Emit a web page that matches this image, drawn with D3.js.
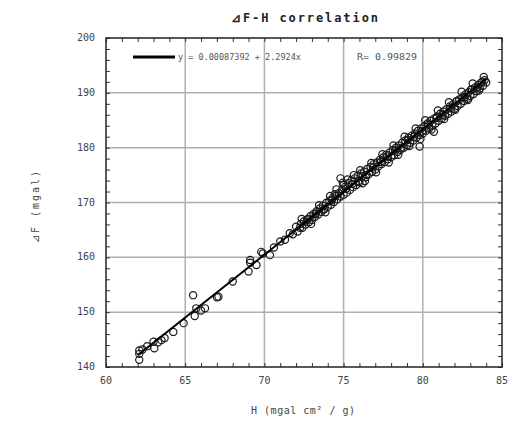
<!DOCTYPE html>
<html><head><meta charset="utf-8">
<script src="https://cdn.jsdelivr.net/npm/d3@7"></script>
<style>
html,body{margin:0;padding:0;background:#fff;}
svg{display:block;}
</style></head>
<body>
<script>
const titleText = "⊿F-H  correlation";
const xLabelText = "H (mgal cm² / g)";
const yLabelText = "⊿F (mgal)";
const legendEq = "y = 0.00087392 + 2.2924x";
const legendR = "R= 0.99829";
const xTicks = [60, 65, 70, 75, 80, 85];
const yTicks = [140, 150, 160, 170, 180, 190, 200];
const fitIntercept = 0.00087392;
const fitSlope = 2.2924;
const fitRange = [62.0, 84.0];

const ptsX = [
62.1,62.1,62.1,62.3,62.6,63.0,63.05,63.3,63.5,63.7,64.25,64.9,65.5,65.6,65.7,66.0,66.25,67.0,67.1,68.0,69.0,69.1,69.1,69.5,69.8,69.9,70.35,70.6,
71.0,71.3,71.6,71.8,72.0,72.1,72.3,72.4,72.5,72.6,72.7,72.8,72.9,73.0,73.1,73.2,73.3,73.4,73.5,73.6,73.7,73.8,73.9,74.0,74.1,74.2,74.3,74.4,74.5,74.6,74.7,74.8,74.8,74.9,75.0,75.0,75.1,75.2,75.3,75.4,75.5,75.6,75.7,75.8,75.9,76.0,76.1,76.2,76.2,76.3,76.4,76.5,76.6,76.7,76.8,76.9,77.0,77.1,77.2,77.3,77.4,77.5,77.6,77.7,77.8,77.9,78.0,78.1,78.2,78.3,78.4,78.5,78.6,78.7,78.8,78.9,79.0,79.1,79.2,79.3,79.4,79.5,79.6,79.7,79.8,79.8,79.9,80.0,80.1,80.2,80.3,80.4,80.5,80.6,80.7,80.7,80.8,80.9,81.0,81.1,81.2,81.3,81.4,81.5,81.6,81.7,81.8,81.9,82.0,82.1,82.2,82.3,82.4,82.5,82.6,82.7,82.8,82.9,83.0,83.1,83.2,83.3,83.4,83.5,83.6,83.7,83.8,83.9,84.0,
72.25,72.75,73.25,73.75,74.25,74.45,75.15,75.55,75.95,76.45,76.85,77.35,77.75,78.25,78.65,79.05,79.45,79.95,80.35,80.85,81.25,81.75,82.15,82.65,83.05,83.45,83.75,
72.35,72.95,73.45,73.85,74.15,74.55,74.95,75.25,75.65,76.05,76.35,76.75,77.05,77.45,77.85,78.15,78.45,78.85,79.15,79.55,79.85,80.15,80.55,80.95,81.35,81.65,82.05,82.45,82.85,83.15,83.55,83.85
];
const ptsY = [
141.3,143.0,142.4,143.2,143.8,144.6,143.4,144.5,144.9,145.3,146.4,148.0,153.1,149.3,150.7,150.3,150.7,152.7,152.8,155.6,157.4,159.0,159.5,158.6,161.0,160.7,160.4,161.8,
162.9,163.2,164.4,164.2,165.6,164.7,166.1,165.4,166.6,166.0,166.9,166.4,167.5,166.8,167.9,167.4,168.4,167.8,168.9,168.3,169.4,168.8,169.9,169.2,170.3,169.6,170.8,170.1,171.2,170.6,171.7,174.4,171.1,172.3,171.4,173.2,172.9,171.8,173.5,172.3,174.0,172.8,174.4,173.2,174.9,173.7,175.3,173.5,174.8,175.6,174.6,176.1,175.2,176.5,175.6,177.0,176.0,177.3,176.6,177.8,177.0,178.2,177.4,178.7,177.9,179.1,178.3,179.6,178.6,180.0,179.2,180.4,179.6,180.9,180.0,181.3,180.4,181.8,180.9,182.2,181.3,182.6,181.8,183.1,180.2,182.3,183.5,182.6,183.9,183.1,184.4,183.5,184.9,184.0,182.9,185.3,184.4,185.7,184.9,186.2,185.3,186.6,185.8,187.0,186.2,187.5,186.6,187.9,187.1,188.4,187.6,188.8,188.0,189.2,188.5,189.7,188.9,190.1,189.4,190.6,189.8,191.0,190.3,191.5,190.8,191.9,191.3,192.3,191.9,
165.4,167.0,168.0,168.7,170.4,171.5,172.5,173.4,173.9,175.0,176.4,177.4,178.4,179.5,180.0,181.4,182.0,183.0,184.2,185.4,186.0,187.2,188.5,189.2,190.6,191.0,192.0,
167.0,166.1,169.5,168.2,171.2,172.4,173.6,174.2,175.0,175.9,173.9,177.2,175.5,178.8,177.3,180.4,178.7,182.0,180.3,183.5,181.6,185.0,183.3,186.8,185.2,188.3,186.9,190.2,188.7,191.7,190.4,192.9
];

const W = 509, H = 428;
const m = {left:106, top:38, right:7, bottom:61};
const iw = W - m.left - m.right, ih = H - m.top - m.bottom;

const svg = d3.select("body").append("svg").attr("width", W).attr("height", H);
const g = svg.append("g").attr("transform", `translate(${m.left},${m.top})`);

const x = d3.scaleLinear().domain([60, 85]).range([0, iw]);
const y = d3.scaleLinear().domain([140, 200]).range([ih, 0]);

// grid
g.append("g").selectAll("line").data(xTicks.slice(1, -1)).join("line")
  .attr("x1", d => x(d)).attr("x2", d => x(d)).attr("y1", 0).attr("y2", ih)
  .attr("stroke", "#b0b0b0").attr("stroke-width", 1.5);
g.append("g").selectAll("line").data(yTicks.slice(1, -1)).join("line")
  .attr("y1", d => y(d)).attr("y2", d => y(d)).attr("x1", 0).attr("x2", iw)
  .attr("stroke", "#b0b0b0").attr("stroke-width", 1.5);

// minor / major ticks inward (all four sides)
const xMinor = d3.range(60, 85.001, 1);
const yMinor = d3.range(140, 200.001, 2);
function axisStyle(sel){
  sel.select(".domain").remove();
  sel.selectAll("line").attr("stroke", "#333").attr("stroke-width", 1);
  sel.selectAll("text").remove();
}
g.append("g").attr("transform", `translate(0,${ih})`)
  .call(d3.axisBottom(x).tickValues(xMinor).tickSize(-4)).call(axisStyle);
g.append("g")
  .call(d3.axisTop(x).tickValues(xMinor).tickSize(-4)).call(axisStyle);
g.append("g")
  .call(d3.axisLeft(y).tickValues(yMinor).tickSize(-4)).call(axisStyle);
g.append("g").attr("transform", `translate(${iw},0)`)
  .call(d3.axisRight(y).tickValues(yMinor).tickSize(-4)).call(axisStyle);

// frame
g.append("rect").attr("x", 0).attr("y", 0).attr("width", iw).attr("height", ih)
  .attr("fill", "none").attr("stroke", "#222").attr("stroke-width", 1.5);

// tick labels
const labFont = "'DejaVu Sans Mono', monospace";
g.append("g").selectAll("text").data(xTicks).join("text")
  .attr("x", d => x(d)).attr("y", ih + 17)
  .attr("text-anchor", "middle").attr("font-family", labFont).attr("font-size", 10)
  .attr("fill", "#444").text(d => d);
g.append("g").selectAll("text").data(yTicks).join("text")
  .attr("x", -11).attr("y", d => y(d) + 3)
  .attr("text-anchor", "end").attr("font-family", labFont).attr("font-size", 10)
  .attr("fill", "#444").text(d => d);

// points
g.append("g").selectAll("circle").data(ptsX.map((v, i) => [v, ptsY[i]])).join("circle")
  .attr("cx", d => x(d[0])).attr("cy", d => y(d[1])).attr("r", 3.6)
  .attr("fill", "none").attr("stroke", "#1a1a1a").attr("stroke-width", 1.2);

// fit line
g.append("line")
  .attr("x1", x(fitRange[0])).attr("y1", y(fitIntercept + fitSlope * fitRange[0]))
  .attr("x2", x(fitRange[1])).attr("y2", y(fitIntercept + fitSlope * fitRange[1]))
  .attr("stroke", "#000").attr("stroke-width", 2);

// legend
g.append("line").attr("x1", 27).attr("x2", 69).attr("y1", 19).attr("y2", 19)
  .attr("stroke", "#000").attr("stroke-width", 3);
g.append("text").attr("x", 72).attr("y", 22).attr("font-family", labFont)
  .attr("font-size", 9).attr("fill", "#555").attr("textLength", 123)
  .attr("lengthAdjust", "spacingAndGlyphs").text(legendEq);
g.append("text").attr("x", 251).attr("y", 22).attr("font-family", labFont)
  .attr("font-size", 9).attr("fill", "#555").attr("textLength", 60)
  .attr("lengthAdjust", "spacingAndGlyphs").text(legendR);

// title
svg.append("text").attr("x", 231).attr("y", 22)
  .attr("font-family", labFont).attr("font-weight", "bold").attr("font-size", 12)
  .attr("fill", "#222").attr("textLength", 147).attr("lengthAdjust", "spacing").text(titleText);

// axis titles
svg.append("text").attr("x", 251).attr("y", 414)
  .attr("font-family", labFont).attr("font-size", 10).attr("fill", "#444")
  .attr("textLength", 104).attr("lengthAdjust", "spacing").text(xLabelText);
svg.append("text").attr("transform", "translate(39,243) rotate(-90)")
  .attr("font-family", labFont).attr("font-size", 10).attr("fill", "#444")
  .attr("textLength", 72).attr("lengthAdjust", "spacing").text(yLabelText);
</script>
</body></html>
